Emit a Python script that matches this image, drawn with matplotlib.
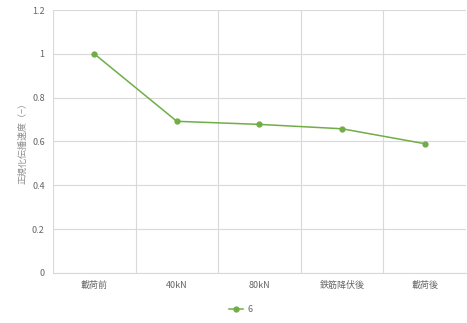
import matplotlib
matplotlib.use("Agg")
import matplotlib.pyplot as plt
import numpy as np

plt.rcParams['font.family'] = ['Noto Sans CJK JP', 'DejaVu Sans']

categories = ["載荷前", "40kN", "80kN", "鉄筋降伏後", "載荷後"]
values = [1.0, 0.692, 0.678, 0.658, 0.590]
series_name = "6"
yticks = [0, 0.2, 0.4, 0.6, 0.8, 1, 1.2]
ytick_labels = ["0", "0.2", "0.4", "0.6", "0.8", "1", "1.2"]

green = "#70AD47"
grid = "#D9D9D9"
text = "#666666"

fig = plt.figure(figsize=(4.67, 3.23), dpi=100)
ax = fig.add_axes([0.1135, 0.155, 0.884, 0.814])

x = np.arange(len(categories))
ax.plot(x, values, color=green, lw=1.1, marker="o", ms=3.5, label=series_name)

ax.set_xlim(-0.5, len(categories) - 0.5)
ax.set_ylim(0, 1.2)
ax.set_yticks(yticks)
ax.set_yticklabels(ytick_labels)
ax.set_xticks(x)
ax.set_xticklabels(categories)
ax.set_xticks(np.arange(-0.5, len(categories)), minor=True)

ax.grid(axis="y", which="major", color=grid, lw=0.8)
ax.grid(axis="x", which="minor", color=grid, lw=0.8)
ax.set_axisbelow(True)
for s in ["top", "right", "left"]:
    ax.spines[s].set_visible(False)
ax.spines["bottom"].set_color(grid)
ax.tick_params(which="both", length=0)
ax.tick_params(axis="both", labelsize=6.5, colors=text, pad=6)

ax.set_ylabel("正規化伝播速度（−）", fontsize=6.5, color="#8c8c8c", labelpad=3)

ax.legend(loc="upper center", bbox_to_anchor=(0.455, -0.09), frameon=False,
          fontsize=6.5, labelcolor=text, handlelength=1.6, handletextpad=0.5)

fig.savefig("out.png", dpi=100)
